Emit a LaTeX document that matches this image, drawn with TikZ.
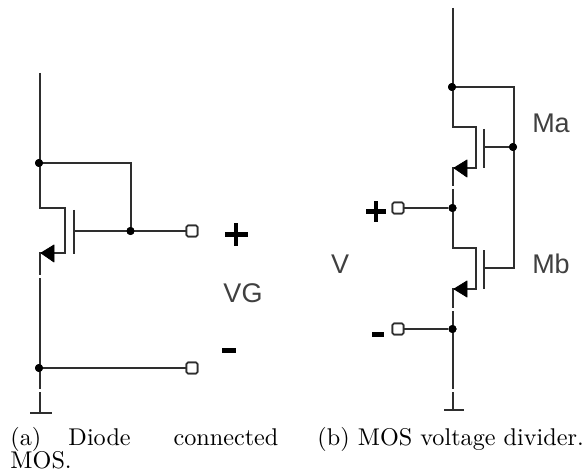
\documentclass[tikz,border=0pt]{standalone}
\usepackage{fontspec}
\newfontfamily\labelfont{Liberation Sans}
\tikzset{
  x=1pt,y=-1pt,
  wire/.style={line width=1.8pt,draw=black!82},
  plate/.style={line width=2pt,draw=black!82},
  dotnode/.style={circle,fill=black,inner sep=0pt,minimum size=8pt},
  term/.style={rectangle,rounded corners=1.5pt,draw=black!82,line width=1.6pt,fill=white,inner sep=0pt,minimum size=11pt},
  arrowhead/.style={fill=black,draw=black,line width=0.8pt,line join=round},
  lab/.style={inner sep=0pt,text=black!75,font=\labelfont\fontsize{27}{27}\selectfont},
  sign/.style={fill=black,draw=none},
  captext/.style={inner sep=0pt,anchor=base west,scale=2.42,font=\fontsize{10}{12}\selectfont}
}
\begin{document}
\begin{tikzpicture}
\useasboundingbox (0,0) rectangle (586,473);
\fill[white] (0,0) rectangle (586,473);

% --- left circuit
\coordinate (Atop) at (40,73);
\node[dotnode] (A1) at (39,163) {};
\coordinate (A2) at (131,163);
\node[dotnode] (Ag) at (130.5,231) {};
\node[term] (At) at (192,231) {};
\coordinate (Ad) at (40,208);
\coordinate (Adc) at (65,208);
\coordinate (Asc) at (65,253);
\coordinate (As) at (40,253);
\coordinate (Asb) at (40,275);
\coordinate (Ab) at (40,278);
\node[dotnode] (A3) at (39,368) {};
\node[term] (Au) at (192,368) {};
\coordinate (Ac) at (40,389);
\coordinate (Ae) at (40,392);
\coordinate (Agnd) at (40,413);
\coordinate (Agl) at (30,413);
\coordinate (Agr) at (52,413);
\coordinate (Apt) at (74,210);
\coordinate (Apb) at (74,254);
\coordinate (Apm) at (74,231);
\draw[wire] (Atop) -- (Ad) -- (Adc) -- (Asc) -- (As) -- (Asb);
\draw[wire] (Ab) -- (Ac);
\draw[wire] (Ae) -- (Agnd);
\draw[wire] (Agl) -- (Agr);
\draw[wire] (A1) -- (A2) -- (131,231);
\draw[plate] (Apt) -- (Apb);
\draw[wire] (Apm) -- (At);
\draw[wire] (A3) -- (Au);
\fill[arrowhead] (41,253) -- (54,245) -- (54,262) -- cycle;
\node[dotnode] at (A1) {};
\node[dotnode] at (Ag) {};
\node[dotnode] at (A3) {};
\node[term] at (At) {};
\node[term] at (Au) {};
\fill[sign] (224.5,232) rectangle (247.5,236.5);
\fill[sign] (233.5,223) rectangle (238,245.5);
\fill[sign] (222,348) rectangle (236,352.5);
\node[lab] (VG) at (243,293) {VG};

% --- right circuit
\coordinate (Btop) at (453,8);
\node[dotnode] (B1) at (452,87) {};
\coordinate (B2) at (514,87);
\node[dotnode] (Bga) at (513,147) {};
\coordinate (Bgb) at (514,268);
\coordinate (Bd) at (453,127);
\coordinate (Bdc) at (476,127);
\coordinate (Bsc) at (476,168);
\coordinate (Bs) at (453,168);
\coordinate (Bc) at (453,186);
\coordinate (Bf) at (453,189);
\node[dotnode] (Bm) at (452.5,208) {};
\node[term] (Bp) at (398,208) {};
\coordinate (Bd2) at (453,248);
\coordinate (Bdc2) at (476,248);
\coordinate (Bsc2) at (476,289);
\coordinate (Bs2) at (453,289);
\coordinate (Bc2) at (453,308);
\coordinate (Bf2) at (453,311);
\node[dotnode] (Bl) at (452.5,329) {};
\node[term] (Bn) at (398,329) {};
\coordinate (Bc3) at (453,389);
\coordinate (Bf3) at (453,392);
\coordinate (Bgnd) at (453,410);
\coordinate (Bgl) at (444,410);
\coordinate (Bgr) at (464,410);
\coordinate (Bpt) at (484,129);
\coordinate (Bpb) at (484,168);
\coordinate (Bpm) at (484,147);
\coordinate (Bpt2) at (484,250);
\coordinate (Bpb2) at (484,289);
\coordinate (Bpm2) at (484,268);
\draw[wire] (Btop) -- (Bd) -- (Bdc) -- (Bsc) -- (Bs) -- (Bc);
\draw[wire] (Bf) -- (Bd2) -- (Bdc2) -- (Bsc2) -- (Bs2) -- (Bc2);
\draw[wire] (Bf2) -- (Bc3);
\draw[wire] (Bf3) -- (Bgnd);
\draw[wire] (Bgl) -- (Bgr);
\draw[wire] (B1) -- (B2) -- (Bgb) -- (Bpm2);
\draw[plate] (Bpt) -- (Bpb);
\draw[plate] (Bpt2) -- (Bpb2);
\draw[wire] (Bpm) -- (Bga);
\draw[wire] (Bp) -- (Bm);
\draw[wire] (Bn) -- (Bl);
\fill[arrowhead] (454,168) -- (467,160) -- (467,177) -- cycle;
\fill[arrowhead] (454,289) -- (467,281) -- (467,297) -- cycle;
\node[dotnode] at (B1) {};
\node[dotnode] at (Bga) {};
\node[dotnode] at (Bm) {};
\node[dotnode] at (Bl) {};
\node[term] at (Bp) {};
\node[term] at (Bn) {};
\fill[sign] (365.5,209) rectangle (386,213.5);
\fill[sign] (373.5,201.5) rectangle (378,221.5);
\fill[sign] (372,332) rectangle (384,336.5);
\node[lab] (V) at (340,264) {V};
\node[lab] (Ma) at (551,123) {Ma};
\node[lab] (Mb) at (551,264) {Mb};

% --- captions
\node[captext] (CapA) at (10,445) {\hbox to 110.7pt{(a)\hspace{11.2pt}Diode\hfill connected}};
\node[captext] (CapA2) at (10,468) {MOS.};
\node[captext] (CapB) at (317,445) {(b) MOS voltage divider.};
\end{tikzpicture}
\end{document}
